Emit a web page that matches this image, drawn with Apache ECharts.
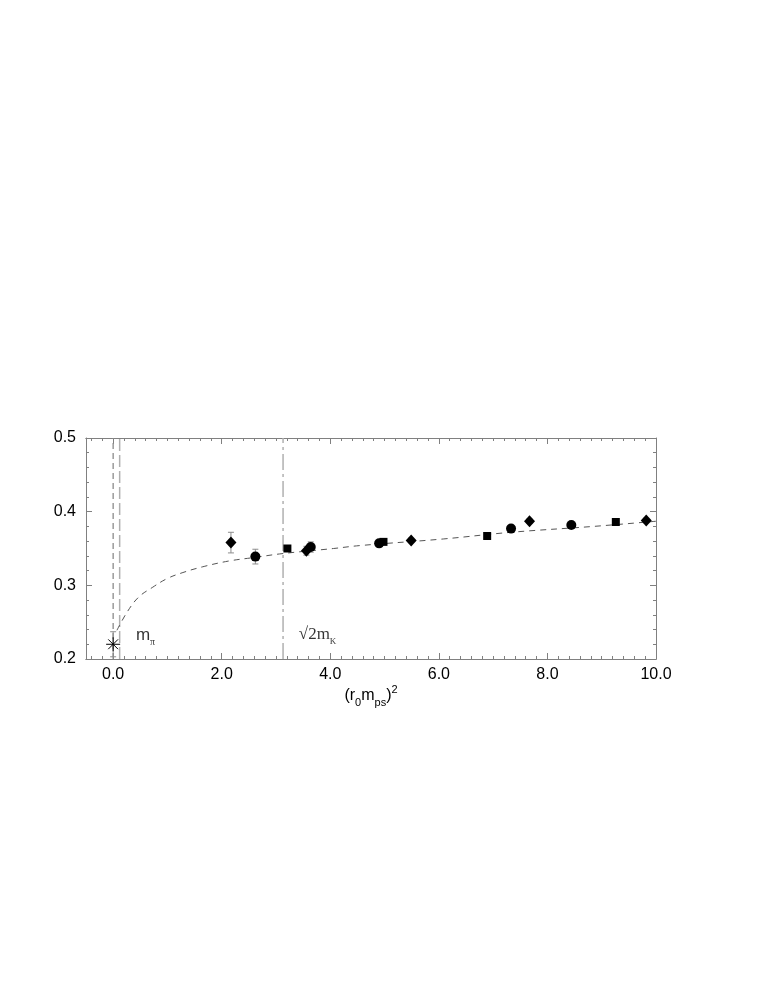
<!DOCTYPE html>
<html>
<head>
<meta charset="utf-8">
<script src="https://cdn.jsdelivr.net/npm/echarts@6/dist/echarts.min.js"></script>
<style>
  html, body { margin: 0; padding: 0; background: #fff; }
  #main { width: 763px; height: 987px; }
</style>
</head>
<body>
<div id="main"></div>
<script>
// 数据点
var circleX = [2.62, 3.64, 4.90, 7.33, 8.44];
var circleY = [0.339, 0.352, 0.357, 0.377, 0.382];
var circleErr = [0.010, 0.007, 0.004, 0.004, 0.003];

var squareX = [3.21, 4.98, 6.89, 9.26];
var squareY = [0.350, 0.359, 0.367, 0.386];
var squareErr = [0.004, 0.003, 0.003, 0.003];

var diamondX = [2.17, 3.56, 5.49, 7.67, 9.82];
var diamondY = [0.358, 0.347, 0.361, 0.387, 0.388];
var diamondErr = [0.014, 0.006, 0.003, 0.003, 0.003];

var starX = [0.0];
var starY = [0.220];
var starErr = [0.017];

// 拟合曲线 (虚线)
var fitX = [0.07, 0.26, 0.47, 0.72, 0.99, 1.27, 1.64, 2.13, 2.62, 3.11, 4.06, 4.55, 6.09, 7.33, 8.85, 10.0];
var fitY = [0.239, 0.264, 0.284, 0.297, 0.309, 0.317, 0.325, 0.333, 0.338, 0.343, 0.350, 0.354, 0.363, 0.372, 0.380, 0.387];

// 竖线位置
var vlineX = [0.0, 0.12, 3.13];

// 刻度
var xMajorTicks = [0, 2, 4, 6, 8, 10];
var yRange = [0.2, 0.5];
var xRange = [-0.5, 10];

var xMinorTicks = [];
for (var t = -4; t <= 100; t += 2) {
    xMinorTicks.push(t / 10);
}

function pairs(xs, ys) {
    var res = [];
    for (var i = 0; i < xs.length; i++) {
        res.push([xs[i], ys[i]]);
    }
    return res;
}

function errData(xs, ys, es) {
    var res = [];
    for (var i = 0; i < xs.length; i++) {
        res.push([xs[i], ys[i] - es[i], ys[i] + es[i]]);
    }
    return res;
}

var AXIS_COLOR = '#808080';
var FONT = 'Liberation Sans';

function renderErr(params, api) {
    var lo = api.coord([api.value(0), api.value(1)]);
    var hi = api.coord([api.value(0), api.value(2)]);
    var w = 3;
    var style = { stroke: '#8c8c8c', lineWidth: 1, fill: null };
    return {
        type: 'group',
        children: [
            { type: 'line', shape: { x1: lo[0], y1: lo[1], x2: hi[0], y2: hi[1] }, style: style },
            { type: 'line', shape: { x1: lo[0] - w, y1: lo[1], x2: lo[0] + w, y2: lo[1] }, style: style },
            { type: 'line', shape: { x1: hi[0] - w, y1: hi[1], x2: hi[0] + w, y2: hi[1] }, style: style }
        ]
    };
}

var xAxisBase = {
    type: 'value',
    min: xRange[0],
    max: xRange[1],
    splitLine: { show: false },
    axisLine: { show: true, onZero: false, lineStyle: { color: AXIS_COLOR, width: 1 } },
    gridIndex: 0
};

function xAxisOf(pos, ticks, len, withLabel) {
    var a = echarts.util.clone(xAxisBase);
    a.position = pos;
    a.axisTick = { show: true, inside: true, length: len, customValues: ticks, lineStyle: { color: AXIS_COLOR } };
    if (withLabel) {
        a.axisLabel = {
            show: true, customValues: xMajorTicks, color: '#000', fontFamily: FONT, fontSize: 16, margin: 8,
            formatter: function (v) { return v.toFixed(1); }
        };
        a.name = '{n|(r}{s|0}{n|m}{s|ps}{n|)}{p|2}';
        a.nameLocation = 'middle';
        a.nameGap = 27;
        a.nameTextStyle = {
            rich: {
                n: { fontFamily: FONT, fontSize: 16, color: '#000', verticalAlign: 'bottom', lineHeight: 18 },
                s: { fontFamily: FONT, fontSize: 11, color: '#000', verticalAlign: 'bottom', lineHeight: 12, padding: [0, 0, -4, 0] },
                p: { fontFamily: FONT, fontSize: 11, color: '#000', verticalAlign: 'bottom', lineHeight: 12, padding: [0, 0, 9, 0] }
            }
        };
    } else {
        a.axisLabel = { show: false };
    }
    return a;
}

function yAxisOf(pos, withLabel) {
    return {
        type: 'value',
        position: pos,
        min: yRange[0],
        max: yRange[1],
        interval: 0.1,
        splitLine: { show: false },
        axisLine: { show: true, onZero: false, lineStyle: { color: AXIS_COLOR, width: 1 } },
        axisTick: { show: true, inside: true, length: 6, lineStyle: { color: AXIS_COLOR } },
        minorTick: { show: true, splitNumber: 5, length: 3, lineStyle: { color: AXIS_COLOR } },
        axisLabel: withLabel ? {
            show: true, color: '#000', fontFamily: FONT, fontSize: 16, margin: 10,
            formatter: function (v) { return v.toFixed(1); }
        } : { show: false }
    };
}

var series = [];

// 竖线
var vlineStyles = [
    { color: '#8a8a8a', width: 1.3, type: [6, 4] },
    { color: '#b0b0b0', width: 1.5, type: [12, 4] },
    { color: '#b0b0b0', width: 1.5, type: [16, 4, 3, 4] }
];
for (var i = 0; i < vlineX.length; i++) {
    series.push({
        type: 'line',
        silent: true,
        symbol: 'none',
        data: [[vlineX[i], yRange[0]], [vlineX[i], yRange[1]]],
        lineStyle: vlineStyles[i],
        z: 1
    });
}

// 拟合曲线
series.push({
    type: 'line',
    symbol: 'none',
    smooth: 0.4,
    data: pairs(fitX, fitY),
    lineStyle: { color: '#555', width: 1, type: [6, 5] },
    z: 2
});

// 误差棒
[[circleX, circleY, circleErr], [squareX, squareY, squareErr], [diamondX, diamondY, diamondErr], [starX, starY, starErr]].forEach(function (d) {
    series.push({
        type: 'custom',
        renderItem: renderErr,
        data: errData(d[0], d[1], d[2]),
        encode: { x: 0, y: [1, 2] },
        z: 3
    });
});

// 标记
series.push({
    type: 'scatter', symbol: 'circle', symbolSize: 10,
    data: pairs(circleX, circleY),
    itemStyle: { color: '#000', opacity: 1 }, z: 5
});
series.push({
    type: 'scatter', symbol: 'rect', symbolSize: 8,
    data: pairs(squareX, squareY),
    itemStyle: { color: '#000', opacity: 1 }, z: 5
});
series.push({
    type: 'scatter', symbol: 'diamond', symbolSize: [11, 12],
    data: pairs(diamondX, diamondY),
    itemStyle: { color: '#000', opacity: 1 }, z: 5
});
series.push({
    type: 'scatter',
    symbol: 'path://M6,0L6,12M0,6L12,6M1.8,1.8L10.2,10.2M10.2,1.8L1.8,10.2',
    symbolSize: 14,
    data: pairs(starX, starY),
    itemStyle: { color: 'none', borderColor: '#000', borderWidth: 1, opacity: 1 }, z: 5
});

// 文字标注
series.push({
    type: 'scatter', symbolSize: 0, silent: true,
    data: [[0.42, 0.2335]],
    label: {
        show: true, position: 'right', distance: 0,
        formatter: '{m|m}{s|π}',
        rich: {
            m: { fontFamily: FONT, fontSize: 17, color: '#000', verticalAlign: 'bottom', lineHeight: 18 },
            s: { fontFamily: 'Liberation Serif', fontSize: 10, color: '#000', verticalAlign: 'bottom', lineHeight: 12, padding: [0, 0, -4, 0] }
        }
    },
    z: 6
});
series.push({
    type: 'scatter', symbolSize: 0, silent: true,
    data: [[3.42, 0.2345]],
    label: {
        show: true, position: 'right', distance: 0,
        formatter: '{m|√2m}{s|K}',
        rich: {
            m: { fontFamily: 'Liberation Serif', fontSize: 17, color: '#000', verticalAlign: 'bottom', lineHeight: 18 },
            s: { fontFamily: 'Liberation Serif', fontSize: 9, color: '#000', verticalAlign: 'bottom', lineHeight: 12, padding: [0, 0, -4, 0] }
        }
    },
    z: 6
});

var chart = echarts.init(document.getElementById('main'), null, { renderer: 'canvas' });
chart.setOption({
    animation: false,
    backgroundColor: '#fff',
    grid: { left: 86, right: 107, top: 438, bottom: 328, containLabel: false },
    xAxis: [
        xAxisOf('bottom', xMajorTicks, 6, true),
        xAxisOf('bottom', xMinorTicks, 3, false),
        xAxisOf('top', xMajorTicks, 6, false),
        xAxisOf('top', xMinorTicks, 3, false)
    ],
    yAxis: [yAxisOf('left', true), yAxisOf('right', false)],
    series: series
});
</script>
</body>
</html>
